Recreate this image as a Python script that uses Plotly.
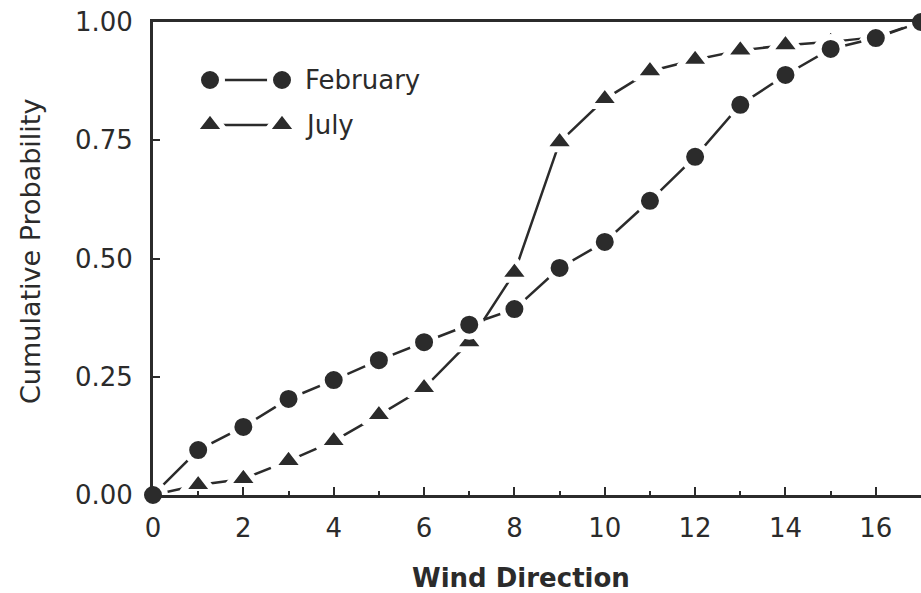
import plotly.graph_objects as go

# ---- data ----
wind_direction = list(range(0, 18))
february = [0.0, 0.095, 0.144, 0.203, 0.243, 0.285, 0.323, 0.360, 0.393, 0.480,
            0.535, 0.622, 0.715, 0.825, 0.888, 0.943, 0.966, 1.0]
july = [0.0, 0.021, 0.034, 0.072, 0.114, 0.169, 0.226, 0.323, 0.470, 0.746,
        0.837, 0.896, 0.920, 0.940, 0.951, 0.958, 0.968, 1.0]
series_names = ["February", "July"]
x_ticks = [0, 2, 4, 6, 8, 10, 12, 14, 16]
y_ticks = [0.0, 0.25, 0.5, 0.75, 1.0]
y_tick_labels = ["0.00", "0.25", "0.50", "0.75", "1.00"]

INK = "#2b2b2b"
FONT = "DejaVu Sans"
W, H = 921, 593
L, R, T, B = 153, 0, 22, 98
PW, PH = W - L - R, H - T - B


def marker(symbol):
    if symbol == "circle":
        return dict(symbol=symbol, size=24, color=INK, line=dict(color="white", width=6))
    return dict(symbol=symbol, size=28, color=INK, line=dict(color="white", width=6))


fig = go.Figure()
fig.add_trace(go.Scatter(x=wind_direction, y=july, mode="lines+markers",
                         line=dict(color=INK, width=2.5), marker=marker("triangle-up"),
                         cliponaxis=False, showlegend=False, name=series_names[1]))
fig.add_trace(go.Scatter(x=wind_direction, y=february, mode="lines+markers",
                         line=dict(color=INK, width=2.5), marker=marker("circle"),
                         cliponaxis=False, showlegend=False, name=series_names[0]))

# ---- hand-drawn legend (fractions of the plot area) ----
leg_x = [(210 - L) / PW, (282 - L) / PW]
leg_rows = [(495 - 80) / PH, (495 - 125) / PH]
leg_text_x = (303 - L) / PW
for name, sym, yy in zip(series_names, ["circle", "triangle-up"], leg_rows):
    fig.add_trace(go.Scatter(x=leg_x, y=[yy, yy], xaxis="x2", yaxis="y2",
                             mode="lines+markers", line=dict(color=INK, width=2.5),
                             marker=marker(sym), showlegend=False, hoverinfo="skip",
                             cliponaxis=False))
    fig.add_annotation(x=leg_text_x, y=yy, xref="x2", yref="y2", text=name,
                       showarrow=False, xanchor="left", yanchor="middle",
                       font=dict(family=FONT, size=26, color=INK))

fig.add_annotation(x=(521 - L) / PW, y=-(578 - 495) / PH,
                   xref="paper", yref="paper", text="<b>Wind Direction</b>",
                   showarrow=False, xanchor="center", yanchor="middle",
                   font=dict(family=FONT, size=26, color=INK))
fig.add_annotation(x=-(153 - 31) / PW, y=(495 - 252) / PH, xref="paper", yref="paper",
                   text="Cumulative Probability", textangle=-90, showarrow=False,
                   xanchor="center", yanchor="middle",
                   font=dict(family=FONT, size=27, color=INK))

fig.update_layout(
    width=W, height=H, margin=dict(l=L, r=R, t=T, b=B),
    plot_bgcolor="white", paper_bgcolor="white",
    font=dict(family=FONT, color=INK, size=26),
    xaxis=dict(range=[0, 17], showgrid=False, zeroline=False, showline=True,
               linecolor=INK, linewidth=3, mirror=True,
               tickmode="array", tickvals=x_ticks, ticks="inside", ticklen=8,
               tickwidth=2, tickcolor=INK, ticklabelstandoff=8,
               minor=dict(dtick=1, ticks="inside", ticklen=4, tickwidth=2, tickcolor=INK),
               tickfont=dict(family=FONT, size=26, color=INK)),
    yaxis=dict(range=[0, 1], showgrid=False, zeroline=False, showline=True,
               linecolor=INK, linewidth=3, mirror=False,
               tickmode="array", tickvals=y_ticks, ticktext=y_tick_labels,
               ticks="inside", ticklen=7, tickwidth=2, tickcolor=INK,
               ticklabelstandoff=12,
               tickfont=dict(family=FONT, size=26, color=INK)),
    xaxis2=dict(range=[0, 1], overlaying="x", visible=False, fixedrange=True),
    yaxis2=dict(range=[0, 1], overlaying="y", visible=False, fixedrange=True),
)

fig.write_html("out.html", config={"displayModeBar": False},
               post_script="document.body.style.margin='0';")
